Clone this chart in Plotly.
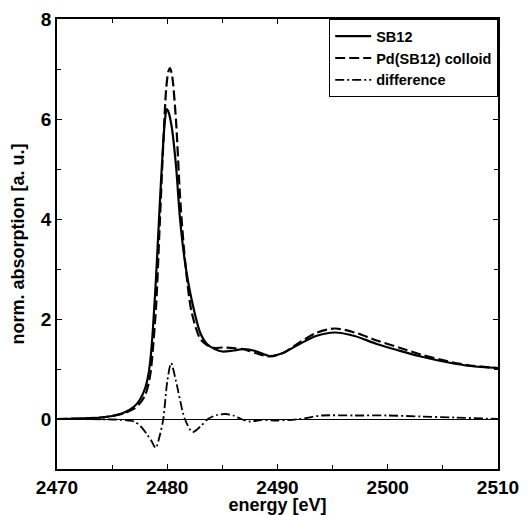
import plotly.graph_objects as go

# Energy grids and values
e_sb12 = [2470, 2472, 2474, 2475, 2476, 2477, 2477.5, 2478, 2478.3, 2478.5, 2478.7, 2479.0,
          2479.3, 2479.6, 2479.8, 2479.95, 2480.1, 2480.4, 2480.8, 2481.16, 2481.6, 2482.2,
          2483.0, 2483.6, 2484.3, 2485.0, 2486.0, 2487.0, 2488.0, 2489.3, 2490.5, 2492,
          2493.5, 2495.2, 2497, 2499, 2501, 2503, 2505.5, 2507.5, 2510]
sb12 = [0.0, 0.01, 0.03, 0.06, 0.12, 0.25, 0.38, 0.62, 0.9, 1.25, 1.8, 2.9,
        4.2, 5.4, 6.0, 6.2, 6.15, 5.85, 5.05, 4.0, 3.15, 2.4,
        1.72, 1.5, 1.4, 1.35, 1.37, 1.40, 1.36, 1.26, 1.32, 1.5,
        1.66, 1.73, 1.66, 1.5, 1.37, 1.25, 1.13, 1.06, 1.02]

e_pd = [2470, 2472, 2474, 2475, 2476, 2477, 2477.5, 2478, 2478.3, 2478.5, 2478.7, 2479.0,
        2479.3, 2479.64, 2479.9, 2480.1, 2480.25, 2480.45, 2480.8, 2481.16, 2481.6, 2482.2,
        2483.0, 2483.6, 2484.3, 2485.0, 2486.0, 2487.0, 2488.0, 2489.3, 2490.5, 2492,
        2493.5, 2495.2, 2497, 2499, 2501, 2503, 2505.5, 2507.5, 2510]
pd_colloid = [0.0, 0.01, 0.03, 0.06, 0.11, 0.21, 0.31, 0.48, 0.7, 0.95, 1.4, 2.3,
              3.8, 5.5, 6.6, 6.95, 7.02, 6.85, 5.95, 4.45, 3.2, 2.15,
              1.6, 1.48, 1.42, 1.43, 1.42, 1.39, 1.32, 1.25, 1.32, 1.53,
              1.72, 1.81, 1.73, 1.57, 1.43, 1.29, 1.15, 1.07, 1.02]

e_diff = [2470, 2475, 2476.5, 2477.0, 2477.6, 2478.2, 2478.6, 2478.95, 2479.3, 2479.64,
          2480.0, 2480.35, 2480.8, 2481.6, 2482.3, 2483.0, 2483.7, 2484.5, 2485.3, 2486.0,
          2486.7, 2487.5, 2488.5, 2490, 2492, 2494, 2497, 2500, 2503, 2506, 2510]
diff = [0.0, -0.01, -0.03, -0.05, -0.15, -0.32, -0.45, -0.58, -0.35, 0.0,
        0.75, 1.12, 0.75, 0.0, -0.26, -0.15, 0.0, 0.08, 0.1, 0.07,
        0.0, -0.05, -0.02, -0.03, 0.0, 0.07, 0.07, 0.07, 0.05, 0.03, 0.0]

x_ticks = [2470, 2480, 2490, 2500, 2510]
y_ticks = [0, 2, 4, 6, 8]

font_bold = "Liberation Sans"

fig = go.Figure()
fig.add_trace(go.Scatter(x=e_sb12, y=sb12, mode="lines", name="<b>SB12</b>",
                         line=dict(color="black", width=2.2, shape="spline", smoothing=0.8)))
fig.add_trace(go.Scatter(x=e_pd, y=pd_colloid, mode="lines", name="<b>Pd(SB12) colloid</b>",
                         line=dict(color="black", width=2.2, dash="10px,4px", shape="spline", smoothing=0.8)))
fig.add_trace(go.Scatter(x=e_diff, y=diff, mode="lines", name="<b>difference</b>",
                         line=dict(color="black", width=1.8, dash="9px,3px,2px,3px", shape="spline", smoothing=0.8)))

# page body has an 8px default margin, so the figure is sized/offset to compensate
fig.update_layout(
    width=522, height=507,
    margin=dict(l=49, r=32, t=11, b=46),
    paper_bgcolor="white", plot_bgcolor="white",
    font=dict(family=font_bold, color="black"),
    showlegend=True,
    legend=dict(x=1, y=1, xanchor="right", yanchor="top",
                bordercolor="black", borderwidth=1.2, bgcolor="white",
                font=dict(size=14.5, family=font_bold), tracegroupgap=0,
                itemwidth=36),
    xaxis=dict(range=[2470, 2510], tickvals=x_ticks, ticktext=[f"<b>{v}</b>" for v in x_ticks],
               ticks="inside", ticklen=5, tickcolor="black", tickfont=dict(size=19),
               minor=dict(dtick=5, ticks="inside", ticklen=4, tickcolor="black", showgrid=False),
               showline=True, linecolor="black", linewidth=1.5, mirror="allticks",
               showgrid=False, zeroline=False, automargin=False,
               title=dict(text="<b>energy [eV]</b>", font=dict(size=18), standoff=5)),
    yaxis=dict(range=[-1, 8], tickvals=y_ticks, ticktext=[f"<b>{v}</b>" for v in y_ticks],
               ticks="inside", ticklen=5, tickcolor="black", tickfont=dict(size=19),
               minor=dict(dtick=1, ticks="inside", ticklen=4, tickcolor="black", showgrid=False),
               showline=True, linecolor="black", linewidth=1.5, mirror="allticks",
               showgrid=False, zeroline=True, zerolinecolor="black", zerolinewidth=1,
               automargin=False,
               title=dict(text="<b>norm. absorption [a. u.]</b>", font=dict(size=18), standoff=16)),
)

fig.write_html("out.html")
